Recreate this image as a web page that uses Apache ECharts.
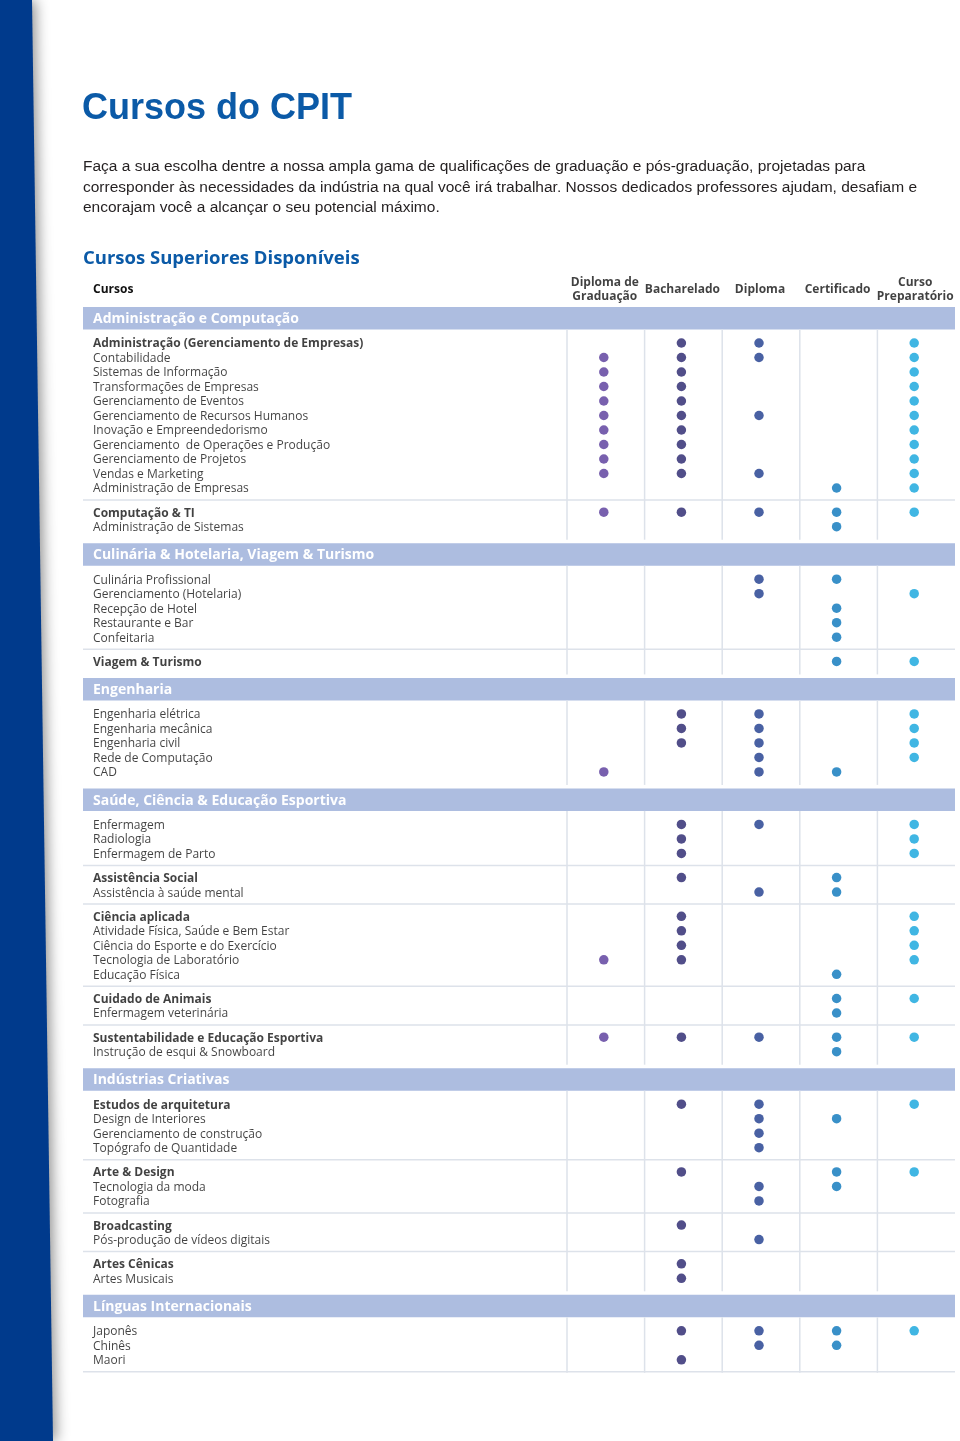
<!DOCTYPE html>
<html>
<head>
<meta charset="utf-8">
<title>Cursos do CPIT</title>
<script src="https://cdn.jsdelivr.net/npm/echarts@6/dist/echarts.min.js"></script>
<style>
  html, body { margin: 0; padding: 0; background: #ffffff; }
  #main { width: 960px; height: 1441px; }
</style>
</head>
<body>
<div id="main"></div>
<script>
// table columns (qualification types)
const columns = ['Diploma de\nGraduação', 'Bacharelado', 'Diploma', 'Certificado', 'Curso\nPreparatório'];

const sectionTitles = [
  'Administração e Computação',
  'Culinária & Hotelaria, Viagem & Turismo',
  'Engenharia',
  'Saúde, Ciência & Educação Esportiva',
  'Indústrias Criativas',
  'Línguas Internacionais'
];

// number of courses in each group, per section
const groupSizes = [[11, 2], [5, 1], [5], [3, 2, 5, 2, 2], [4, 3, 2, 2], [3]];
// is the first course of the group a bold heading
const boldFirst = [[1, 1], [0, 1], [0], [0, 1, 1, 1, 1], [1, 1, 1, 1], [0]];

const courses = [
  'Administração (Gerenciamento de Empresas)', 'Contabilidade', 'Sistemas de Informação',
  'Transformações de Empresas', 'Gerenciamento de Eventos', 'Gerenciamento de Recursos Humanos',
  'Inovação e Empreendedorismo', 'Gerenciamento  de Operações e Produção', 'Gerenciamento de Projetos',
  'Vendas e Marketing', 'Administração de Empresas',
  'Computação & TI', 'Administração de Sistemas',
  'Culinária Profissional', 'Gerenciamento (Hotelaria)', 'Recepção de Hotel', 'Restaurante e Bar', 'Confeitaria',
  'Viagem & Turismo',
  'Engenharia elétrica', 'Engenharia mecânica', 'Engenharia civil', 'Rede de Computação', 'CAD',
  'Enfermagem', 'Radiologia', 'Enfermagem de Parto',
  'Assistência Social', 'Assistência à saúde mental',
  'Ciência aplicada', 'Atividade Física, Saúde e Bem Estar', 'Ciência do Esporte e do Exercício',
  'Tecnologia de Laboratório', 'Educação Física',
  'Cuidado de Animais', 'Enfermagem veterinária',
  'Sustentabilidade e Educação Esportiva', 'Instrução de esqui & Snowboard',
  'Estudos de arquitetura', 'Design de Interiores', 'Gerenciamento de construção', 'Topógrafo de Quantidade',
  'Arte & Design', 'Tecnologia da moda', 'Fotografia',
  'Broadcasting', 'Pós-produção de vídeos digitais',
  'Artes Cênicas', 'Artes Musicais',
  'Japonês', 'Chinês', 'Maori'
];

// one flag per column: 1 = offered
const offered = [
  '01101', '11101', '11001', '11001', '11001', '11101', '11001', '11001', '11001', '11101', '00011',
  '11111', '00010',
  '00110', '00101', '00010', '00010', '00010',
  '00011',
  '01101', '01101', '01101', '00101', '10110',
  '01101', '01001', '01001',
  '01010', '00110',
  '01001', '01001', '01001', '11001', '00010',
  '00011', '00010',
  '11111', '00010',
  '01101', '00110', '00100', '00100',
  '01011', '00110', '00100',
  '01000', '00100',
  '01000', '01000',
  '01111', '00110', '01000'
];

const dotColors = ['#56389a', '#26226c', '#1b398c', '#0874ba', '#10a4dc'];
const font = '"Open Sans", sans-serif';

// ---- vertical layout (pixels) ----
const ROW = 14.5, GROUP_GAP = 9.7, HEAD = 13.5, BAND_H = 22.5, TAIL = 16.5;
const TABLE_L = 83, TABLE_R = 955, COL_L = 567, COL_W = 77.6;
const rowY = [], isBold = [], graphics = [];

graphics.push({
  type: 'polygon', z: 10,
  shape: { points: [[0, 0], [32, 0], [53, 1441], [0, 1441]] },
  style: { fill: '#003a8c', shadowColor: 'rgba(0,0,0,0.45)', shadowBlur: 14, shadowOffsetX: 3 }
});
graphics.push({
  type: 'text', x: 82, y: 109,
  style: { text: 'Cursos do CPIT', font: 'bold 36px "Liberation Sans", Arial, sans-serif', fill: '#0b5aa7', verticalAlign: 'middle' }
});
['Faça a sua escolha dentre a nossa ampla gama de qualificações de graduação e pós-graduação, projetadas para',
 'corresponder às necessidades da indústria na qual você irá trabalhar. Nossos dedicados professores ajudam, desafiam e',
 'encorajam você a alcançar o seu potencial máximo.'].forEach((t, i) => {
  graphics.push({
    type: 'text', x: 83, y: 167 + i * 20.5,
    style: { text: t, font: '15.5px "Liberation Sans", Arial, sans-serif', fill: '#231f20', verticalAlign: 'middle' }
  });
});
graphics.push({
  type: 'text', x: 83, y: 259,
  style: { text: 'Cursos Superiores Disponíveis', font: 'bold 18.5px "Open Sans", sans-serif', fill: '#0b5aa7', verticalAlign: 'middle' }
});
graphics.push({
  type: 'text', x: 93, y: 290,
  style: { text: 'Cursos', font: 'bold 12px ' + font, fill: '#111111', verticalAlign: 'middle' }
});

const lineStyle = { stroke: '#dde2ea', lineWidth: 1.5 };
let y = 307, idx = 0, prev = 0;
groupSizes.forEach((groups, s) => {
  const bandTop = y, bandBottom = y + BAND_H;
  graphics.push({ type: 'rect', shape: { x: TABLE_L, y: bandTop, width: TABLE_R - TABLE_L, height: BAND_H }, style: { fill: '#adbde0' } });
  graphics.push({
    type: 'text', x: 93, y: bandTop + BAND_H / 2 + 1,
    style: { text: sectionTitles[s], font: 'bold 14px ' + font, fill: '#ffffff', verticalAlign: 'middle' }
  });
  y = bandBottom + HEAD;
  groups.forEach((n, g) => {
    if (g > 0) {
      graphics.push({ type: 'line', shape: { x1: TABLE_L, y1: prev + 12, x2: TABLE_R, y2: prev + 12 }, style: lineStyle });
      y = prev + ROW + GROUP_GAP;
    }
    for (let k = 0; k < n; k++) {
      rowY[idx] = y;
      isBold[idx] = boldFirst[s][g] === 1 && k === 0;
      prev = y;
      y += ROW;
      idx++;
    }
  });
  for (let c = 0; c < columns.length; c++) {
    const x = COL_L + c * COL_W;
    graphics.push({ type: 'line', shape: { x1: x, y1: bandBottom, x2: x, y2: prev + 13 }, style: lineStyle });
  }
  y = prev + TAIL;
});
graphics.push({ type: 'line', shape: { x1: TABLE_L, y1: prev + 12, x2: TABLE_R, y2: prev + 12 }, style: lineStyle });

// ---- series ----
const dotSeries = columns.map((col, c) => ({
  type: 'scatter',
  xAxisIndex: 0, yAxisIndex: 0,
  symbol: 'circle',
  symbolSize: 9.5,
  itemStyle: { color: dotColors[c] },
  data: courses.map((name, i) => offered[i][c] === '1' ? [col, rowY[i]] : null).filter(d => d)
}));

const labelSeries = {
  type: 'scatter',
  xAxisIndex: 1, yAxisIndex: 1,
  symbolSize: 0,
  label: {
    show: true, position: 'right', distance: 0, offset: [0, 1],
    formatter: '{b}', fontFamily: font, fontSize: 12, color: '#111111'
  },
  data: courses.map((name, i) => ({
    name: name,
    value: [0, rowY[i]],
    label: { fontWeight: isBold[i] ? 'bold' : 'normal' }
  }))
};

const headerSeries = {
  type: 'scatter',
  xAxisIndex: 0, yAxisIndex: 0,
  symbolSize: 0,
  label: {
    show: true, position: 'inside', offset: [1, 1],
    formatter: p => p.value[0],
    fontFamily: font, fontSize: 12, fontWeight: 'bold', lineHeight: 14, color: '#111111'
  },
  data: columns.map(col => [col, 289])
};

const chart = echarts.init(document.getElementById('main'));
chart.setOption({
  animation: false,
  backgroundColor: '#ffffff',
  grid: [
    { left: 565, width: 388, top: 0, height: 1441 },
    { left: 93, width: 460, top: 0, height: 1441 }
  ],
  xAxis: [
    { type: 'category', gridIndex: 0, data: columns, show: false },
    { type: 'value', gridIndex: 1, min: 0, max: 1, show: false }
  ],
  yAxis: [
    { type: 'value', gridIndex: 0, min: 0, max: 1441, inverse: true, show: false },
    { type: 'value', gridIndex: 1, min: 0, max: 1441, inverse: true, show: false }
  ],
  graphic: graphics,
  series: [...dotSeries, labelSeries, headerSeries]
});
</script>
</body>
</html>
